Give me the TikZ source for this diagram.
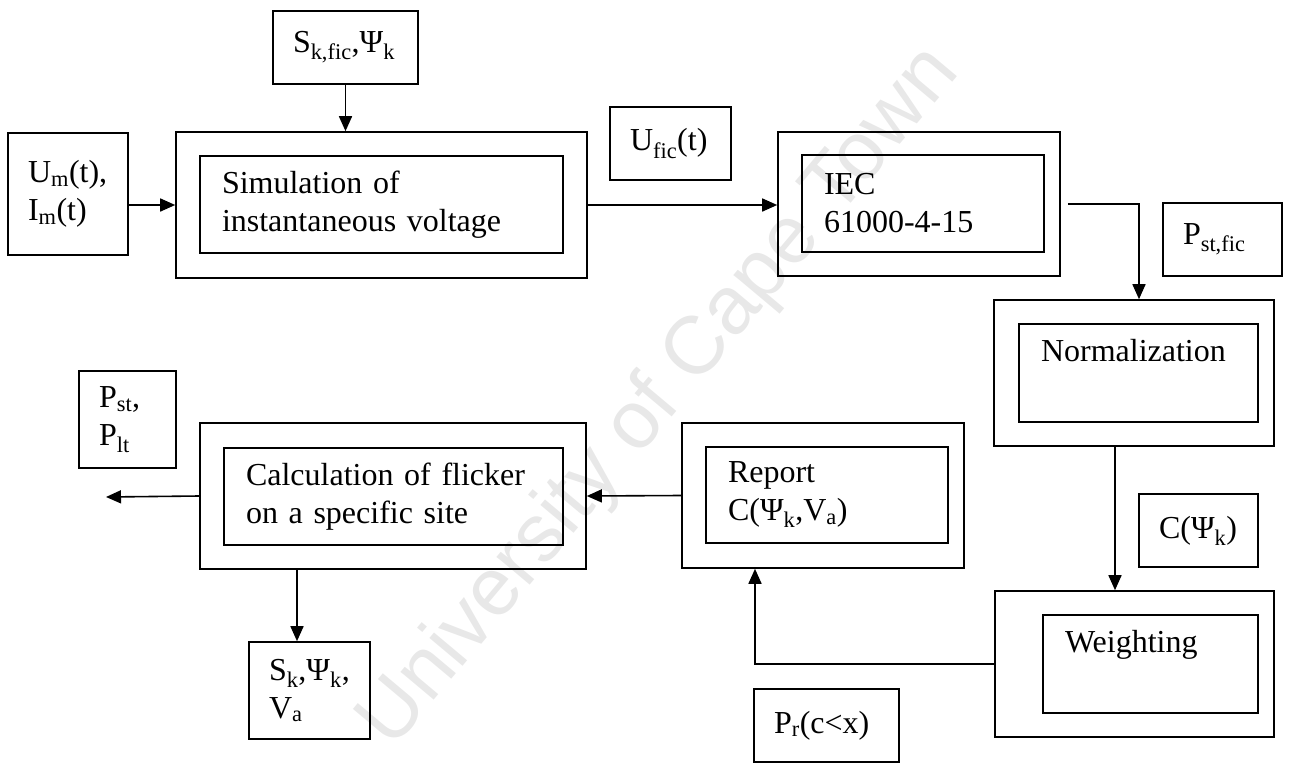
\documentclass[tikz,border=0pt]{standalone}
\usepackage{fontspec}
\setmainfont{Liberation Serif}
\newfontfamily\wmfont{Liberation Sans}
\usetikzlibrary{arrows.meta, calc}

\begin{document}
\begin{tikzpicture}[
  x=1pt, y=-1pt,
  every node/.style={font=\fontsize{32}{38}\selectfont},
  frame/.style={draw, line width=1.6pt, inner sep=0pt},
  block/.style={draw, line width=1.6pt, align=left, inner xsep=22pt, inner ysep=0pt},
  tag/.style={draw, line width=1.6pt, align=left, inner xsep=20pt, inner ysep=0pt},
  flow/.style={-{Triangle[length=15pt, width=13pt]}, line width=1.6pt}
]
\useasboundingbox (0,0) rectangle (1291,763);

\node[rotate=50, text=black!9, font=\wmfont\fontsize{82}{82}\selectfont] (wm) at (660,398)
  {University of Cape Town};

\node[tag, text width=105pt, minimum height=73pt] (sk) at (345.5,47.5)
  {S\textsubscript{k,fic},Ψ\textsubscript{k}};
\node[tag, text width=80pt, minimum height=122pt] (um) at (68,194)
  {U\textsubscript{m}(t),\\I\textsubscript{m}(t)};
\node[frame, minimum width=411pt, minimum height=146pt] (sim) at (381.5,205) {};
\node[block, text width=319pt, minimum height=97pt] (simin) at (381.5,204.5)
  {Simulation of\\instantaneous voltage};
\node[tag, text width=81pt, minimum height=73pt] (ufic) at (670.5,143.5)
  {U\textsubscript{fic}(t)};
\node[frame, minimum width=282pt, minimum height=144pt] (iec) at (919,204) {};
\node[block, text width=198pt, minimum height=97pt] (iecin) at (923,203.5)
  {IEC\\61000-4-15};
\node[tag, text width=79pt, minimum height=73pt] (pstfic) at (1222.5,239.5)
  {P\textsubscript{st,fic}};
\node[frame, minimum width=280pt, minimum height=146pt] (norm) at (1134,373) {};
\node[block, text width=195pt, minimum height=98pt] (normin) at (1138.5,373)
  {Normalization\strut\\\strut};
\node[tag, text width=79pt, minimum height=73pt] (cpsi) at (1198.5,530.5)
  {C(Ψ\textsubscript{k})};
\node[frame, minimum width=279pt, minimum height=146pt] (weight) at (1134.5,664) {};
\node[block, text width=171pt, minimum height=98pt] (weightin) at (1150.5,664)
  {Weighting\strut\\\strut};
\node[tag, text width=105pt, minimum height=73pt] (pr) at (826.5,725.5)
  {P\textsubscript{r}(c<x)};
\node[frame, minimum width=282pt, minimum height=145pt] (report) at (823,495.5) {};
\node[block, text width=198pt, minimum height=96pt] (reportin) at (827,495)
  {Report\\C(Ψ\textsubscript{k},V\textsubscript{a})};
\node[frame, minimum width=386pt, minimum height=146pt] (calc) at (393,496) {};
\node[block, text width=295pt, minimum height=97pt] (calcin) at (393.5,496.5)
  {Calculation of flicker\\on a specific site};
\node[tag, text width=57pt, minimum height=97pt] (pstlt) at (127.5,419.5)
  {P\textsubscript{st},\\P\textsubscript{lt}};
\node[tag, text width=81pt, minimum height=97pt] (site) at (309.5,690.5)
  {S\textsubscript{k},Ψ\textsubscript{k},\\V\textsubscript{a}};

\coordinate (out) at (106,497);
\coordinate (down) at (297,0);
\coordinate (feed) at (1115,0);
\coordinate (back) at (755,0);

\draw[flow] (sk) -- (sk |- sim.north);
\draw[flow] (um.east |- sim.west) -- (sim.west);
\draw[flow] (sim.east) -- (sim.east -| iec.west);
\draw[flow] ([xshift=7pt]iec.east) -| ([xshift=5pt]norm.north);
\draw[flow] (norm.south -| feed) -- (weight.north -| feed);
\draw[flow] (weight.west) -| (report.south -| back);
\draw[flow] (report.west) -- (calc.east);
\draw[flow] (calc.west) -- (out);
\draw[flow] (calc.south -| down) -- (site.north -| down);
\end{tikzpicture}
\end{document}
